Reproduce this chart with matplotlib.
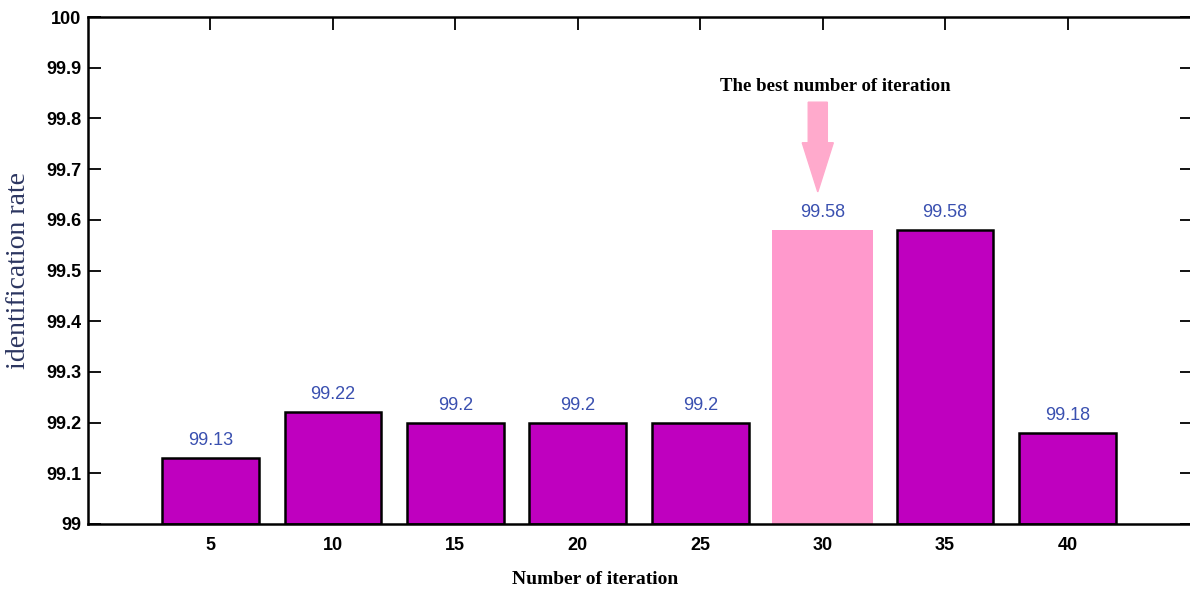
import matplotlib
matplotlib.use('Agg')
import matplotlib.pyplot as plt

iterations = [5, 10, 15, 20, 25, 30, 35, 40]
rates = [99.13, 99.22, 99.2, 99.2, 99.2, 99.58, 99.58, 99.18]
labels = ['99.13', '99.22', '99.2', '99.2', '99.2', '99.58', '99.58', '99.18']
best = 30

fig = plt.figure(figsize=(11.9, 5.94), dpi=100)
ax = fig.add_axes([88/1190, 70/594, (1192 - 88)/1190, 507/594])

for x, r, lab in zip(iterations, rates, labels):
	if x == best:
		ax.bar(x, r - 99, bottom=99, width=4.1, color='#ff99cc', edgecolor='none', zorder=2)
	else:
		ax.bar(x, r - 99, bottom=99, width=3.95, color='#bf00bf', edgecolor='black', linewidth=1.8, zorder=2)
	ax.annotate(lab, (x, r), xytext=(0, 6.5), textcoords='offset points', ha='center', va='bottom',
		fontsize=13, color='#3a50b0', family='Liberation Sans')

ax.set_xlim(0, 45 * 1104 / 1102)
ax.set_ylim(99, 100)
ax.set_xticks(iterations)
ax.set_yticks([99 + i / 10 for i in range(11)])
ax.set_yticklabels(['99'] + ['%.1f' % (99 + i / 10) for i in range(1, 10)] + ['100'])
ax.tick_params(direction='in', length=9, width=1.3, top=True, right=True)
ax.tick_params(axis='y', pad=5)
ax.tick_params(axis='x', pad=9)
for t in ax.get_xticklabels() + ax.get_yticklabels():
	t.set_fontweight('bold')
	t.set_fontsize(13)
	t.set_family('Liberation Sans')
for s in ax.spines.values():
	s.set_linewidth(1.8)

ax.set_xlabel('Number of iteration', fontsize=14, fontweight='bold', family='Liberation Serif')
ax.xaxis.set_label_coords((595 - 88) / 1104, -0.093)
ax.set_ylabel('identification rate', fontsize=20, color='#2b3560', family='Liberation Serif')
ax.yaxis.set_label_coords(-0.052, 0.5)

# arrow pointing at the best bar
ax.arrow(29.8, 99.832, 0, -0.177, width=0.78, head_width=1.27, head_length=0.097,
	length_includes_head=True, color='#ffaacc', zorder=3)
ax.text(30.5, 99.862, 'The best number of iteration', ha='center', va='center',
	fontsize=13.5, fontweight='bold', family='Liberation Serif')

fig.savefig('out.png', dpi=100)
